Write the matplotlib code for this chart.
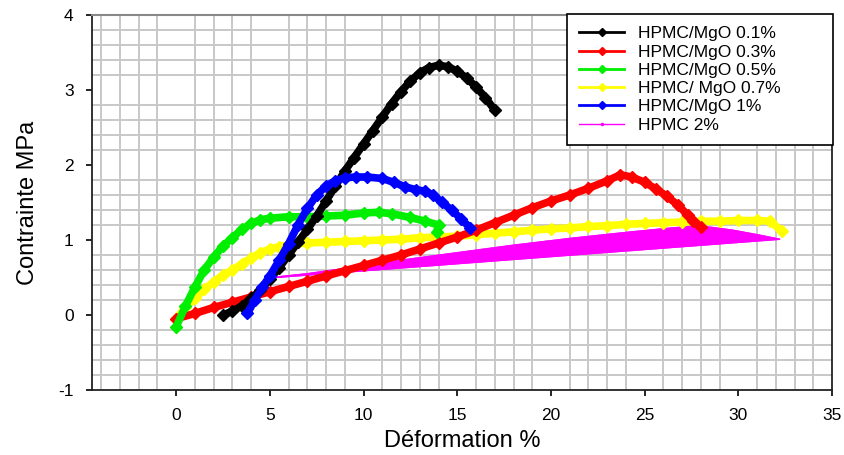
import matplotlib
matplotlib.use("Agg")
import matplotlib.pyplot as plt
from matplotlib.ticker import MultipleLocator

plt.rcParams['font.family'] = ['Liberation Sans', 'DejaVu Sans']
plt.rcParams['axes.unicode_minus'] = False

# ---------------- Data ----------------
x_01 = [2.5, 3.0, 3.5, 4.0, 4.5, 5.0, 5.5, 6.0, 6.5, 7.0, 7.5, 8.0, 8.5, 9.0, 9.5,
        10.0, 10.5, 11.0, 11.5, 12.0, 12.5, 13.0, 13.5, 14.0, 14.5, 15.0, 15.5,
        16.0, 16.5, 17.0]
y_01 = [0.0, 0.05, 0.12, 0.22, 0.33, 0.48, 0.63, 0.8, 0.97, 1.14, 1.32, 1.52, 1.72,
        1.92, 2.1, 2.28, 2.46, 2.64, 2.82, 2.98, 3.12, 3.23, 3.3, 3.33, 3.31, 3.25,
        3.16, 3.04, 2.9, 2.73]

x_03 = [0, 1, 2, 3, 4, 5, 6, 7, 8, 9, 10, 11, 12, 13, 14, 15, 16, 17, 18, 19, 20,
        21, 22, 23, 23.7, 24.3, 25.0, 25.6, 26.2, 26.8, 27.3, 27.6, 28.0]
y_03 = [-0.05, 0.02, 0.1, 0.17, 0.24, 0.31, 0.38, 0.45, 0.52, 0.59, 0.66, 0.73,
        0.8, 0.88, 0.96, 1.04, 1.13, 1.23, 1.33, 1.43, 1.52, 1.6, 1.69, 1.79, 1.87,
        1.84, 1.77, 1.68, 1.58, 1.46, 1.33, 1.25, 1.17]

x_05 = [0, 0.5, 1, 1.5, 2, 2.5, 3, 3.5, 4, 4.5, 5, 6, 7, 8, 9, 10, 10.8, 11.5,
        12.5, 13.3, 14.0, 13.9]
y_05 = [-0.16, 0.12, 0.37, 0.6, 0.77, 0.92, 1.03, 1.14, 1.22, 1.27, 1.29, 1.31,
        1.31, 1.32, 1.33, 1.36, 1.37, 1.35, 1.3, 1.25, 1.2, 1.11]

x_07 = [0, 0.5, 1, 1.5, 2, 2.5, 3, 3.5, 4, 4.5, 5, 5.5, 6, 7, 8, 9, 10, 11, 12,
        13, 14, 15, 16, 17, 18, 19, 20, 21, 22, 23, 24, 25, 26, 27, 28, 29, 30,
        31, 31.7, 32.3]
y_07 = [-0.05, 0.1, 0.22, 0.34, 0.44, 0.53, 0.6, 0.68, 0.76, 0.83, 0.88, 0.91,
        0.94, 0.96, 0.97, 0.98, 0.99, 1.0, 1.01, 1.03, 1.04, 1.05, 1.07, 1.09,
        1.11, 1.13, 1.15, 1.16, 1.18, 1.19, 1.21, 1.22, 1.23, 1.24, 1.25, 1.25,
        1.26, 1.26, 1.25, 1.12]

x_1 = [3.8, 4.2, 4.6, 5.0, 5.5, 6.0, 6.5, 7.0, 7.5, 8.0, 8.5, 9.0, 9.6, 10.2,
       11.0, 11.6, 12.2, 12.8, 13.3, 13.7, 14.2, 14.7, 15.2, 15.7]
y_1 = [0.02, 0.2, 0.37, 0.52, 0.73, 0.95, 1.2, 1.42, 1.6, 1.72, 1.79, 1.83, 1.84,
       1.84, 1.82, 1.77, 1.71, 1.67, 1.65, 1.6, 1.5, 1.4, 1.28, 1.16]

# HPMC 2%: loading curve out, then straight return to the start
x_2 = [4.75, 7, 9, 12, 15, 18, 21, 24, 26, 27.4, 28.5, 29.7, 31, 32.2, 4.75]
y_2 = [0.49, 0.55, 0.62, 0.73, 0.83, 0.93, 1.02, 1.1, 1.15, 1.18, 1.17, 1.13,
       1.07, 1.01, 0.49]

labels = ["HPMC/MgO 0.1%", "HPMC/MgO 0.3%", "HPMC/MgO 0.5%",
          "HPMC/ MgO 0.7%", "HPMC/MgO 1%", "HPMC 2%"]
colors = ["black", "#ff0000", "#00ee00", "#ffff00", "#0000ff", "#ff00ff"]

# ---------------- Plot ----------------
fig = plt.figure(figsize=(8.44, 4.55), dpi=100)
ax = fig.add_axes([0.1087, 0.1429, 0.8773, 0.8241])

series = [(x_01, y_01), (x_03, y_03), (x_05, y_05), (x_07, y_07), (x_1, y_1)]
zorders = [5, 4, 4.5, 3, 6]
for (xs, ys), lab, col, z in zip(series, labels[:5], colors[:5], zorders):
    ax.plot(xs, ys, color=col, lw=5.5, marker='D', ms=6.5, mec=col,
            zorder=z, solid_joinstyle='round', solid_capstyle='round')

ax.fill(x_2, y_2, color=colors[5], lw=1, zorder=2)
ax.plot(x_2, y_2, color=colors[5], lw=1, zorder=2)

ax.set_xlim(-4.5, 35)
ax.set_ylim(-1, 4)
ax.xaxis.set_major_locator(MultipleLocator(5))
ax.xaxis.set_minor_locator(MultipleLocator(1))
ax.yaxis.set_major_locator(MultipleLocator(1))
ax.yaxis.set_minor_locator(MultipleLocator(0.2))
ax.grid(False, which='major')
ax.grid(True, which='minor', color='#c8c8c8', lw=1.4)
ax.set_axisbelow(True)
ax.tick_params(which='minor', length=0)
ax.tick_params(which='major', length=4, width=1.2, labelsize=12.5, pad=9)

for s in ['left', 'bottom', 'right']:
    ax.spines[s].set_color('#222222')
    ax.spines[s].set_linewidth(1.3)
ax.spines['top'].set_color('#888888')
ax.spines['top'].set_linewidth(1.5)

ax.set_xlabel("Déformation %", fontsize=17, labelpad=5)
ax.set_ylabel("Contrainte MPa", fontsize=17, labelpad=14)

# legend handles drawn with a single marker in the middle
leg_handles = []
for col, lab in zip(colors[:5], labels[:5]):
    l, = ax.plot([], [], color=col, lw=2, marker='D', ms=4, label=lab)
    leg_handles.append(l)
l, = ax.plot([], [], color=colors[5], lw=1, marker='.', ms=3, label=labels[5])
leg_handles.append(l)

leg = ax.legend(handles=leg_handles, loc='upper left',
                bbox_to_anchor=(0.642, 0.0, 0.3593, 1.0027), mode='expand',
                borderaxespad=0, fancybox=False, edgecolor='black', framealpha=1,
                fontsize=12.5, numpoints=1, handlelength=2.6, handletextpad=0.8,
                labelspacing=0.18, borderpad=0.7)
leg.get_frame().set_linewidth(1.2)
leg.set_zorder(10)

fig.savefig("out.png", dpi=100)
